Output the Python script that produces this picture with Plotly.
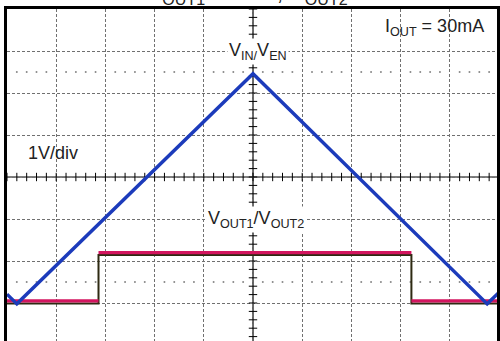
import numpy as np
import plotly.graph_objects as go

# ---- data (x in horizontal divisions, y in vertical divisions, 1V/div) ----
vin_x = [0.0, 0.2, 5.0, 9.76, 10.0]
vin_y = [-2.79, -3.02, 2.46, -3.02, -2.75]

vout1_x = [0.0, 1.86, None, 1.86, 8.22, None, 8.22, 10.0]
vout1_y = [-2.95, -2.95, None, -1.80, -1.80, None, -2.95, -2.95]

vout2_x = [0.0, 1.86, 1.86, 8.22, 8.22, 10.0]
vout2_y = [-3.01, -3.01, -1.86, -1.86, -3.01, -3.01]

title_text = "V<sub>OUT1</sub> = 1.8V, V<sub>OUT2</sub> = 3.3V"
label_vin = "V<sub>IN/</sub>V<sub>EN</sub>"
label_vout = "V<sub>OUT1</sub>/V<sub>OUT2</sub>"
label_iout = "I<sub>OUT</sub> = 30mA"
label_scale = "1V/div"

FONT = "Liberation Sans, Arial, sans-serif"
W, H = 500, 341
L, T = 7, 9
PX_X, PX_Y = 49.5, 42.0
xr = [0, (W - L) / PX_X]
yr = [4 - (H - T) / PX_Y, 4]

fig = go.Figure()

# reference dotted rows
dots_x = [v for v in np.round(np.arange(0, 10.01, 0.2), 2) if abs(v - round(v)) > 1e-6]
for yy in (2.5, -2.5):
    fig.add_trace(go.Scatter(x=dots_x, y=[yy] * len(dots_x), mode="markers",
                             marker=dict(size=2, color="#888888"),
                             hoverinfo="skip", showlegend=False))

# center crosshair ticks
tx = np.round(np.arange(0, 10.01, 0.2), 2)
fig.add_trace(go.Scatter(x=tx, y=[0] * len(tx), mode="markers",
                         marker=dict(symbol="line-ns", size=6,
                                     line=dict(width=1, color="black")),
                         hoverinfo="skip", showlegend=False))
ty = np.round(np.arange(-4, 4.01, 0.2), 2)
fig.add_trace(go.Scatter(x=[5] * len(ty), y=ty, mode="markers",
                         marker=dict(symbol="line-ew", size=6,
                                     line=dict(width=1, color="black")),
                         hoverinfo="skip", showlegend=False))

# traces
fig.add_trace(go.Scatter(x=vout2_x, y=vout2_y, mode="lines",
                         line=dict(color="#2e2a12", width=2),
                         hoverinfo="skip", showlegend=False))
fig.add_trace(go.Scatter(x=vout1_x, y=vout1_y, mode="lines",
                         line=dict(color="#d3155f", width=3.2),
                         connectgaps=False, hoverinfo="skip", showlegend=False))
fig.add_trace(go.Scatter(x=vin_x, y=vin_y, mode="lines",
                         line=dict(color="#1c3bbb", width=3.4),
                         hoverinfo="skip", showlegend=False))

# center axes lines
fig.add_shape(type="line", x0=0, x1=10, y0=0, y1=0, xref="x", yref="y",
              line=dict(color="black", width=1.2), layer="below")
fig.add_shape(type="line", x0=5, x1=5, y0=-4, y1=4, xref="x", yref="y",
              line=dict(color="black", width=1.2), layer="below")

# labels
fig.add_annotation(x=5.1, y=3.0, xref="x", yref="y", text=label_vin,
                   showarrow=False, bgcolor="white",
                   font=dict(family=FONT, size=18, color="#222"))
fig.add_annotation(x=5.07, y=-1.02, xref="x", yref="y", text=label_vout,
                   showarrow=False, bgcolor="white",
                   font=dict(family=FONT, size=18, color="#222"))
fig.add_annotation(x=8.69, y=3.57, xref="x", yref="y", text=label_iout,
                   showarrow=False,
                   font=dict(family=FONT, size=18, color="#222"))
fig.add_annotation(x=0.93, y=0.57, xref="x", yref="y", text=label_scale,
                   showarrow=False,
                   font=dict(family=FONT, size=18, color="#222"))
fig.add_annotation(x=(146 - L) / (W - L), y=1, xref="paper", yref="paper",
                   xanchor="left", yanchor="bottom", yshift=-1,
                   text=title_text, showarrow=False,
                   font=dict(family=FONT, size=23, color="#222"))

fig.update_xaxes(range=xr, tick0=0, dtick=1, showgrid=True, gridcolor="#707070",
                 griddash="3px,2px", gridwidth=1, showticklabels=False,
                 ticks="", zeroline=False, showline=True, mirror=True,
                 linecolor="black", linewidth=2.5)
fig.update_yaxes(range=yr, tick0=0, dtick=1, showgrid=True, gridcolor="#707070",
                 griddash="3px,2px", gridwidth=1, showticklabels=False,
                 ticks="", zeroline=False, showline=True, mirror=True,
                 linecolor="black", linewidth=2.5)

fig.update_layout(width=W, height=H, margin=dict(l=L, r=0, t=T, b=0),
                  plot_bgcolor="white", paper_bgcolor="white",
                  showlegend=False)

fig.write_html("out.html", config={"displayModeBar": False},
               post_script="document.body.style.margin='0';document.body.style.overflow='hidden';")
